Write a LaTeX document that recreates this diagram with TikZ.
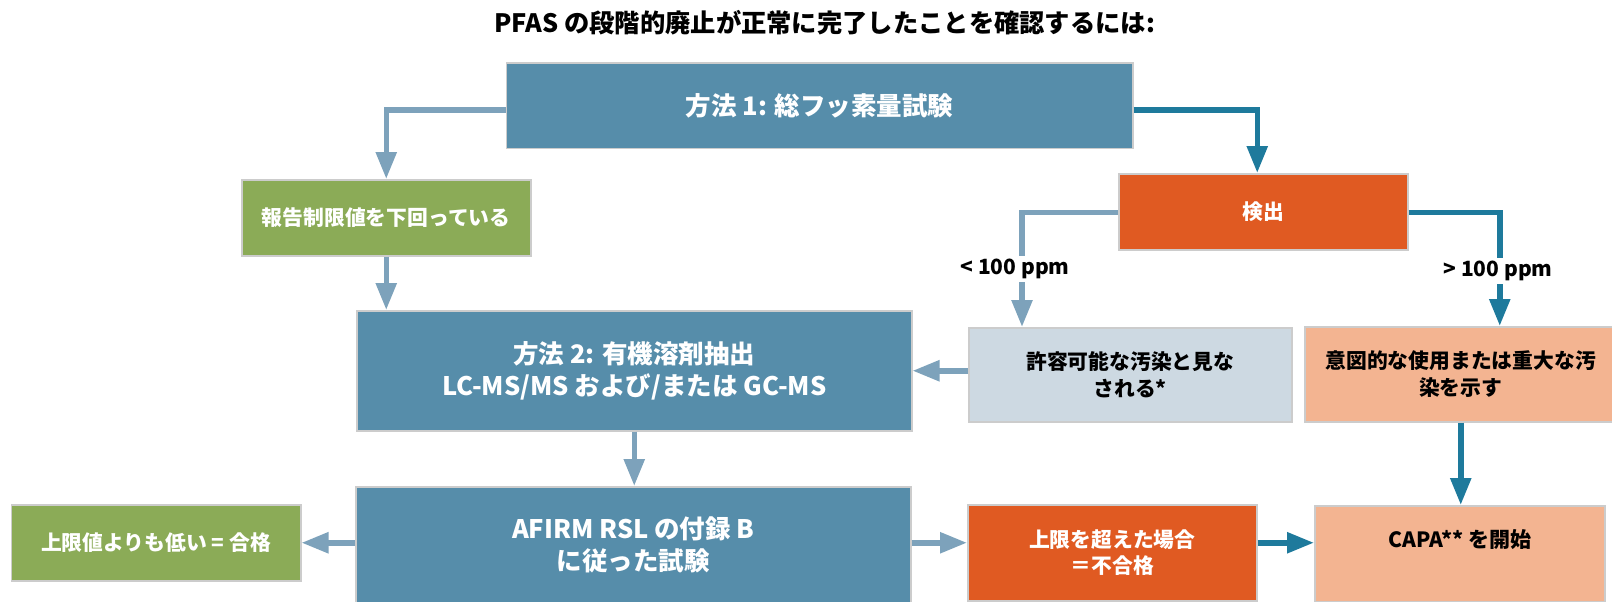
\documentclass[tikz,border=0pt]{standalone}
\usepackage{fontspec}
\setmainfont{Noto Sans CJK JP}
\usetikzlibrary{arrows.meta}
\definecolor{steel}{HTML}{568DAA}
\definecolor{leaf}{HTML}{8BAB57}
\definecolor{rust}{HTML}{E05A22}
\definecolor{mist}{HTML}{CDD9E2}
\definecolor{peach}{HTML}{F3B491}
\definecolor{edge}{HTML}{CCCCCC}
\definecolor{arrlight}{HTML}{7DA2BB}
\definecolor{arrdark}{HTML}{1E7A9C}
\tikzset{
  box/.style={draw=edge, line width=1.5pt, inner sep=0pt, align=center, anchor=north west, font=\bfseries\fontsize{20.8}{26.5}\selectfont},
  bigbox/.style={box, fill=steel, text=white, font=\bfseries\fontsize{25.5}{32}\selectfont},
  conn/.style={line width=5.5pt, -{Triangle[length=27pt,width=20pt]}},
  lconn/.style={conn, draw=arrlight},
  dconn/.style={conn, draw=arrdark},
  lbl/.style={fill=white, inner sep=3pt, font=\bfseries\fontsize{21}{24}\selectfont},
}
\begin{document}
\begin{tikzpicture}[x=1pt,y=-1pt]
\path[use as bounding box] (0,0) rectangle (1612,602);
\clip (0,0) rectangle (1612,602);
\node[font=\bfseries\fontsize{25.3}{30}\selectfont] (title) at (824.5,23) {PFAS の段階的廃止が正常に完了したことを確認するには:};
% boxes
\node[bigbox, minimum width=626.5pt, minimum height=85pt] (b1) at (505.5,62.5) {方法 1: 総フッ素量試験};
\node[box, fill=leaf, text=white, minimum width=289pt, minimum height=76pt] (g1) at (241,179) {報告制限値を下回っている};
\node[box, fill=rust, text=white, minimum width=289pt, minimum height=76pt] (det) at (1118,173) {検出};
\node[bigbox, minimum width=555pt, minimum height=120pt] (m2) at (356,310) {方法 2: 有機溶剤抽出\\LC-MS/MS および/または GC-MS};
\node[box, fill=mist, text=black, minimum width=323pt, minimum height=94pt] (acc) at (968,327) {許容可能な汚染と見な\\される*};
\node[box, fill=peach, text=black, minimum width=312pt, minimum height=95pt] (int) at (1304,326) {意図的な使用または重大な汚\\染を示す};
\node[bigbox, minimum width=555pt, minimum height=116pt] (afirm) at (355,486) {AFIRM RSL の付録 B\\に従った試験};
\node[box, fill=leaf, text=white, minimum width=289.5pt, minimum height=76pt] (g2) at (10.5,504) {上限値よりも低い = 合格};
\node[box, fill=rust, text=white, minimum width=289pt, minimum height=96pt] (over) at (967,504) {上限を超えた場合\\＝不合格};
\node[box, fill=peach, minimum width=290pt, minimum height=96pt] (capa) at (1314,505) {};
\node[font=\bfseries\fontsize{21}{26}\selectfont, text=black] (capat) at ([yshift=14pt]capa.center) {CAPA** を開始};
% connectors
\draw[lconn] ([yshift=-4pt]b1.west) -| (g1.north);
\draw[dconn] ([yshift=-4pt]b1.east) -| ([xshift=-6pt]det.north);
\draw[lconn] ([yshift=-0.5pt]det.west) -| ([xshift=54pt]acc.north west);
\draw[dconn] ([yshift=-0.5pt]det.east) -| ([xshift=39pt]int.north);
\node[lbl] (lt) at (1015,269) {< 100 ppm};
\node[lbl] (gt) at (1498,271) {> 100 ppm};
\draw[lconn] (g1.south) -- (g1.south |- m2.north);
\draw[lconn] (acc.west |- m2.east) -- (m2.east);
\draw[lconn] (m2.south) -- (m2.south |- afirm.north);
\draw[dconn] (int.south) -- (int.south |- capa.north);
\draw[lconn] (afirm.west |- g2.east) -- (g2.east);
\draw[lconn] (afirm.east |- g2.east) -- (over.west |- g2.east);
\draw[dconn] (over.east |- g2.east) -- (capa.west |- g2.east);
\end{tikzpicture}
\end{document}
